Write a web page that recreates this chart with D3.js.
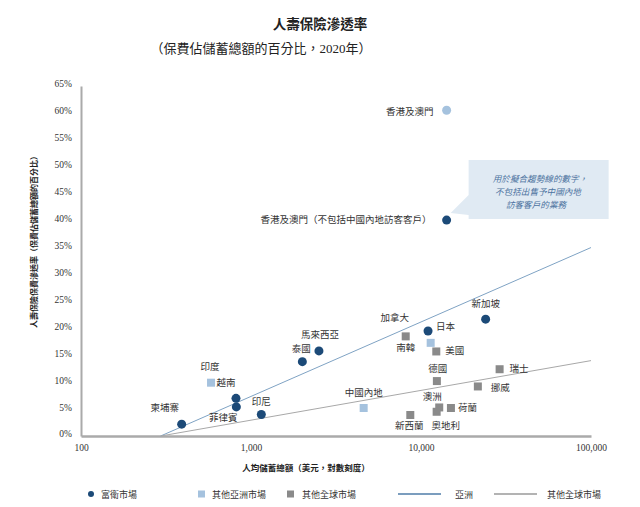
<!DOCTYPE html>
<html>
<head>
<meta charset="utf-8">
<script src="https://cdn.jsdelivr.net/npm/d3@7/dist/d3.min.js"></script>
<style>
  html, body { margin: 0; padding: 0; background: #fff; }
  svg { display: block; }
</style>
</head>
<body>
<svg id="chart" width="640" height="507"></svg>
<script>
// ---------------- DATA ----------------
const fwdNames   = ["香港及澳門（不包括中國內地訪客客戶）", "新加坡", "日本", "馬來西亞", "泰國", "越南", "菲律賓", "印尼", "柬埔寨"];
const fwdSavings = [14150, 24000, 11000, 2510, 2005, 816, 820, 1150, 391];
const fwdRates   = [40.1, 21.7, 19.5, 15.8, 13.8, 7.0, 5.4, 4.0, 2.2];

const hkAllNames   = ["香港及澳門"];
const hkAllSavings = [14150];
const hkAllRates   = [60.5];

const asiaNames   = ["南韓", "中國內地", "印度"];
const asiaSavings = [11400, 4600, 582];
const asiaRates   = [17.3, 5.2, 9.9];

const globalNames   = ["加拿大", "美國", "德國", "瑞士", "挪威", "澳洲", "荷蘭", "奧地利", "新西蘭"];
const globalSavings = [8130, 12300, 12400, 29000, 21600, 12800, 15000, 12360, 8650];
const globalRates   = [18.5, 15.7, 10.2, 12.4, 9.2, 5.3, 5.2, 4.5, 3.9];

const asiaTrendX   = [294, 100000];
const asiaTrendY   = [0, 35];
const globalTrendX = [294, 100000];
const globalTrendY = [0, 14];

const xTickValues = [100, 1000, 10000, 100000];
const yTickValues = [0, 5, 10, 15, 20, 25, 30, 35, 40, 45, 50, 55, 60, 65];

const titleText    = "人壽保險滲透率";
const subtitleText = "（保費佔儲蓄總額的百分比，2020年）";
const yTitleText   = "人壽保險保費滲透率（保費佔儲蓄總額的百分比）";
const xTitleText   = "人均儲蓄總額（美元，對數刻度）";
const calloutLines = ["用於擬合趨勢線的數字，", "不包括出售予中國內地", "訪客客戶的業務"];
const legendLabels = ["富衛市場", "其他亞洲市場", "其他全球市場", "亞洲", "其他全球市場"];

// ---------------- LAYOUT / STYLE ----------------
const C = {
  dark: "#1c4a78",
  light: "#a5c2de",
  grey: "#8a8a8a",
  asiaLine: "#7fa3c4",
  globalLine: "#a8a8a8",
  axis: "#aaaaaa",
  text: "#333333"
};
const CJK = "'Noto Sans CJK TC', 'Noto Sans CJK SC', sans-serif";
const SERIF = "'Liberation Serif', 'Noto Sans CJK TC', serif";

// label offsets: [dx, dy, anchor]
const labelLayout = {
  "香港及澳門": [-13, 1.5, "end"],
  "香港及澳門（不包括中國內地訪客客戶）": [-15, 0, "end"],
  "新加坡": [0, -15, "middle"],
  "日本": [8, -4, "start"],
  "加拿大": [-11, -18, "middle"],
  "南韓": [-25, 5, "middle"],
  "美國": [9, 0, "start"],
  "德國": [1, -12, "middle"],
  "瑞士": [10, 0, "start"],
  "挪威": [13, 2, "start"],
  "澳洲": [-7, -10, "middle"],
  "荷蘭": [7, 0, "start"],
  "奧地利": [9, 14, "middle"],
  "新西蘭": [-1, 11, "middle"],
  "中國內地": [0, -15, "middle"],
  "馬來西亞": [1, -16, "middle"],
  "泰國": [-1, -13, "middle"],
  "印度": [-1, -16, "middle"],
  "越南": [-10, -15, "middle"],
  "菲律賓": [-13, 11, "middle"],
  "印尼": [0, -12, "middle"],
  "柬埔寨": [-17, -16, "middle"]
};

const svg = d3.select("#chart");

const x = d3.scaleLog().domain([100, 100000]).range([81, 591]);
const y = d3.scaleLinear().domain([0, 65]).range([436, 86]);

// Titles
svg.append("text").attr("x", 320).attr("y", 23).attr("text-anchor", "middle")
  .attr("dominant-baseline", "central")
  .style("font-family", CJK).style("font-size", "13.5px").style("font-weight", "bold")
  .style("fill", "#222").text(titleText);
svg.append("text").attr("x", 261).attr("y", 48).attr("text-anchor", "middle")
  .attr("dominant-baseline", "central")
  .style("font-family", SERIF).style("font-size", "13px")
  .style("fill", "#222").text(subtitleText);

// Axes
const yAxis = d3.axisLeft(y).tickValues(yTickValues).tickSize(0).tickPadding(9)
  .tickFormat(d => d + "%");
const gy = svg.append("g").attr("transform", "translate(81,0)").call(yAxis);
gy.select(".domain").attr("stroke", C.axis).attr("stroke-width", 2);
gy.selectAll("text").style("font-family", SERIF).style("font-size", "9.5px")
  .style("fill", C.text).attr("dy", "0.1em");

const xAxis = d3.axisBottom(x).tickValues(xTickValues).tickSize(0).tickPadding(8)
  .tickFormat(d3.format(","));
const gx = svg.append("g").attr("transform", "translate(0,436)").call(xAxis);
gx.select(".domain").attr("stroke", C.axis).attr("stroke-width", 2.5);
gx.selectAll("text").style("font-family", SERIF).style("font-size", "9.5px")
  .style("fill", C.text);

// Axis titles
svg.append("text").attr("transform", "translate(33,240) rotate(-90)")
  .attr("text-anchor", "middle").attr("dominant-baseline", "central")
  .style("font-family", CJK).style("font-size", "8px").style("font-weight", "bold")
  .style("fill", "#222").text(yTitleText);
svg.append("text").attr("x", 306).attr("y", 467).attr("text-anchor", "middle")
  .attr("dominant-baseline", "central")
  .style("font-family", CJK).style("font-size", "8.5px").style("font-weight", "bold")
  .style("fill", "#222").text(xTitleText);

// Trend lines
const line = d3.line().x(d => x(d[0])).y(d => y(d[1]));
svg.append("path").datum(asiaTrendX.map((v, i) => [v, asiaTrendY[i]]))
  .attr("d", line).attr("fill", "none").attr("stroke", C.asiaLine).attr("stroke-width", 1);
svg.append("path").datum(globalTrendX.map((v, i) => [v, globalTrendY[i]]))
  .attr("d", line).attr("fill", "none").attr("stroke", C.globalLine).attr("stroke-width", 1);

// Points
function zip(names, xs, ys) { return names.map((n, i) => ({ name: n, x: xs[i], y: ys[i] })); }
const fwd = zip(fwdNames, fwdSavings, fwdRates);
const hkAll = zip(hkAllNames, hkAllSavings, hkAllRates);
const asia = zip(asiaNames, asiaSavings, asiaRates);
const glob = zip(globalNames, globalSavings, globalRates);

const sq = 8;
svg.append("g").selectAll("rect").data(glob).join("rect")
  .attr("x", d => x(d.x) - sq / 2).attr("y", d => y(d.y) - sq / 2)
  .attr("width", sq).attr("height", sq).attr("fill", C.grey);
svg.append("g").selectAll("rect").data(asia).join("rect")
  .attr("x", d => x(d.x) - sq / 2).attr("y", d => y(d.y) - sq / 2)
  .attr("width", sq).attr("height", sq).attr("fill", C.light);
svg.append("g").selectAll("circle").data(hkAll).join("circle")
  .attr("cx", d => x(d.x)).attr("cy", d => y(d.y)).attr("r", 4.5).attr("fill", C.light);
svg.append("g").selectAll("circle").data(fwd).join("circle")
  .attr("cx", d => x(d.x)).attr("cy", d => y(d.y)).attr("r", 4.5).attr("fill", C.dark);

// Labels
const allPts = [].concat(fwd, hkAll, asia, glob);
svg.append("g").selectAll("text").data(allPts).join("text")
  .attr("x", d => x(d.x) + labelLayout[d.name][0])
  .attr("y", d => y(d.y) + labelLayout[d.name][1])
  .attr("text-anchor", d => labelLayout[d.name][2])
  .attr("dominant-baseline", "central")
  .style("font-family", SERIF).style("font-size", "9.5px").style("fill", C.text)
  .text(d => d.name);

// Callout
const hkEx = fwd[0];
const px = x(hkEx.x), py = y(hkEx.y);
const bx0 = px + 22, bx1 = px + 162, by0 = py - 60, by1 = py - 1;
svg.append("path")
  .attr("d", `M${bx0},${by0} L${bx1},${by0} L${bx1},${by1} L${bx0},${by1} L${bx0},${py - 5} L${px + 4},${py - 7} L${bx0},${py - 25} Z`)
  .attr("fill", "#e0eaf3");
const cg = svg.append("g");
calloutLines.forEach((t, i) => {
  cg.append("text").attr("x", 540 - i * 2).attr("y", by0 + 18 + i * 13)
    .attr("text-anchor", "middle").attr("dominant-baseline", "central")
    .style("font-family", CJK).style("font-size", "8.6px").style("font-style", "italic")
    .style("fill", "#4d73a0").text(t);
});

// Legend
const ly = 494;
const lg = svg.append("g").style("font-family", CJK).style("font-size", "9px").style("fill", C.text);
lg.append("circle").attr("cx", 91).attr("cy", ly).attr("r", 3).attr("fill", C.dark);
lg.append("text").attr("x", 101).attr("y", ly).attr("dominant-baseline", "central").text(legendLabels[0]);
lg.append("rect").attr("x", 198).attr("y", ly - 3.5).attr("width", 7).attr("height", 7).attr("fill", C.light);
lg.append("text").attr("x", 212).attr("y", ly).attr("dominant-baseline", "central").text(legendLabels[1]);
lg.append("rect").attr("x", 287).attr("y", ly - 3.5).attr("width", 7).attr("height", 7).attr("fill", C.grey);
lg.append("text").attr("x", 302).attr("y", ly).attr("dominant-baseline", "central").text(legendLabels[2]);
lg.append("line").attr("x1", 398).attr("x2", 441).attr("y1", ly).attr("y2", ly)
  .attr("stroke", "#4f7ca8").attr("stroke-width", 1.5);
lg.append("text").attr("x", 455).attr("y", ly).attr("dominant-baseline", "central").text(legendLabels[3]);
lg.append("line").attr("x1", 494).attr("x2", 537).attr("y1", ly).attr("y2", ly)
  .attr("stroke", "#9a9a9a").attr("stroke-width", 1.5);
lg.append("text").attr("x", 547).attr("y", ly).attr("dominant-baseline", "central").text(legendLabels[4]);
</script>
</body>
</html>
